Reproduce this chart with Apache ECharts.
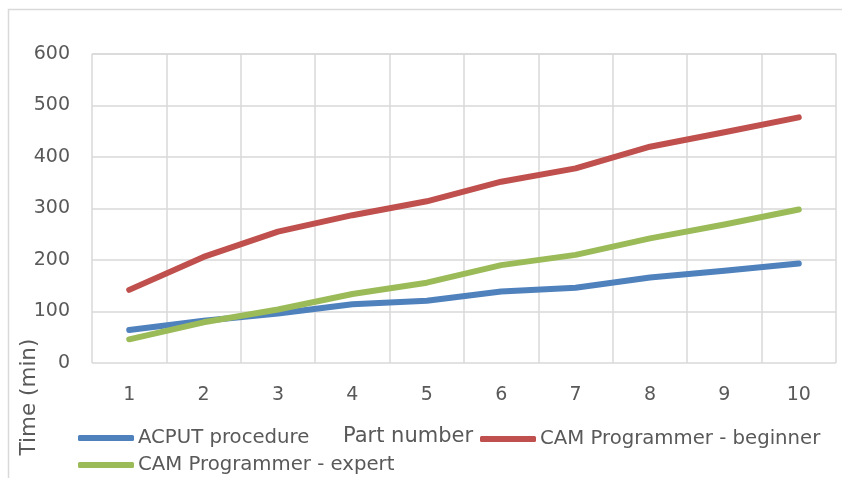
<!DOCTYPE html>
<html>
<head>
<meta charset="utf-8">
<script src="https://cdn.jsdelivr.net/npm/echarts@6/dist/echarts.min.js"></script>
<style>
html,body{margin:0;padding:0;background:#fff;}
#chart{width:842px;height:478px;}
</style>
</head>
<body>
<div id="chart"></div>
<script>
var categories = ['1','2','3','4','5','6','7','8','9','10'];
var acput = [64, 82, 96, 114, 121, 139, 146, 166, 179, 193];
var beginner = [142, 206, 255, 287, 314, 352, 378, 420, 448, 477];
var expert = [46, 79, 104, 134, 156, 190, 210, 242, 269, 298];
var seriesNames = ['ACPUT procedure', 'CAM Programmer - beginner', 'CAM Programmer - expert'];
var colors = ['#4f81bd', '#c0504d', '#9bbb59'];

var FONT = 'DejaVu Sans';
var TXT = '#595959';
var GRID = '#d9d9d9';

var chart = echarts.init(document.getElementById('chart'), null, {renderer: 'canvas'});

function legendAt(name, left, top) {
  return {
    data: [name],
    left: left, top: top,
    padding: 0,
    icon: 'roundRect',
    itemWidth: 56, itemHeight: 6,
    itemGap: 0,
    selectedMode: false,
    textStyle: {color: TXT, fontFamily: FONT, fontSize: 19.7, padding: [0, 0, 0, -1]}
  };
}

function lineSeries(name, data, color) {
  return {
    name: name, type: 'line', data: data,
    showSymbol: false, symbol: 'none',
    itemStyle: {color: color},
    lineStyle: {color: color, width: 6, cap: 'round', join: 'round'},
    animation: false
  };
}

chart.setOption({
  animation: false,
  grid: {left: 92, right: 6, top: 54, bottom: 115, containLabel: false},
  xAxis: {
    type: 'category',
    data: categories,
    boundaryGap: true,
    axisLine: {show: false},
    axisTick: {show: false},
    axisLabel: {color: TXT, fontFamily: FONT, fontSize: 19, margin: 23},
    splitLine: {show: true, lineStyle: {color: GRID, width: 1.5}},
    name: 'Part number',
    nameLocation: 'middle',
    nameGap: 63,
    nameTextStyle: {color: TXT, fontFamily: FONT, fontSize: 21, padding: [0, 112, 0, 0]}
  },
  yAxis: {
    type: 'value',
    min: 0, max: 600, interval: 100,
    axisLine: {show: false},
    axisTick: {show: false},
    axisLabel: {color: TXT, fontFamily: FONT, fontSize: 19, margin: 22},
    splitLine: {show: true, lineStyle: {color: GRID, width: 1.5}}
  },
  legend: [
    legendAt(seriesNames[0], 78, 428),
    legendAt(seriesNames[1], 480, 429),
    legendAt(seriesNames[2], 78, 455)
  ],
  graphic: [
    {type: 'rect', left: 6, top: 7, shape: {x: 0, y: 0, width: 860, height: 490},
     style: {fill: 'none', stroke: GRID, lineWidth: 1.5}, silent: true, z: -10},
    {type: 'line', shape: {x1: 92, y1: 54, x2: 836, y2: 54}, style: {stroke: GRID, lineWidth: 1.5}, silent: true, z: -1},
    {type: 'text', x: 29, y: 397, rotation: Math.PI / 2,
     style: {text: 'Time (min)', fill: TXT, font: '21.5px "' + FONT + '"', textAlign: 'center', textVerticalAlign: 'middle'}}
  ],
  series: [
    lineSeries(seriesNames[0], acput, colors[0]),
    lineSeries(seriesNames[1], beginner, colors[1]),
    lineSeries(seriesNames[2], expert, colors[2])
  ]
});
</script>
</body>
</html>
